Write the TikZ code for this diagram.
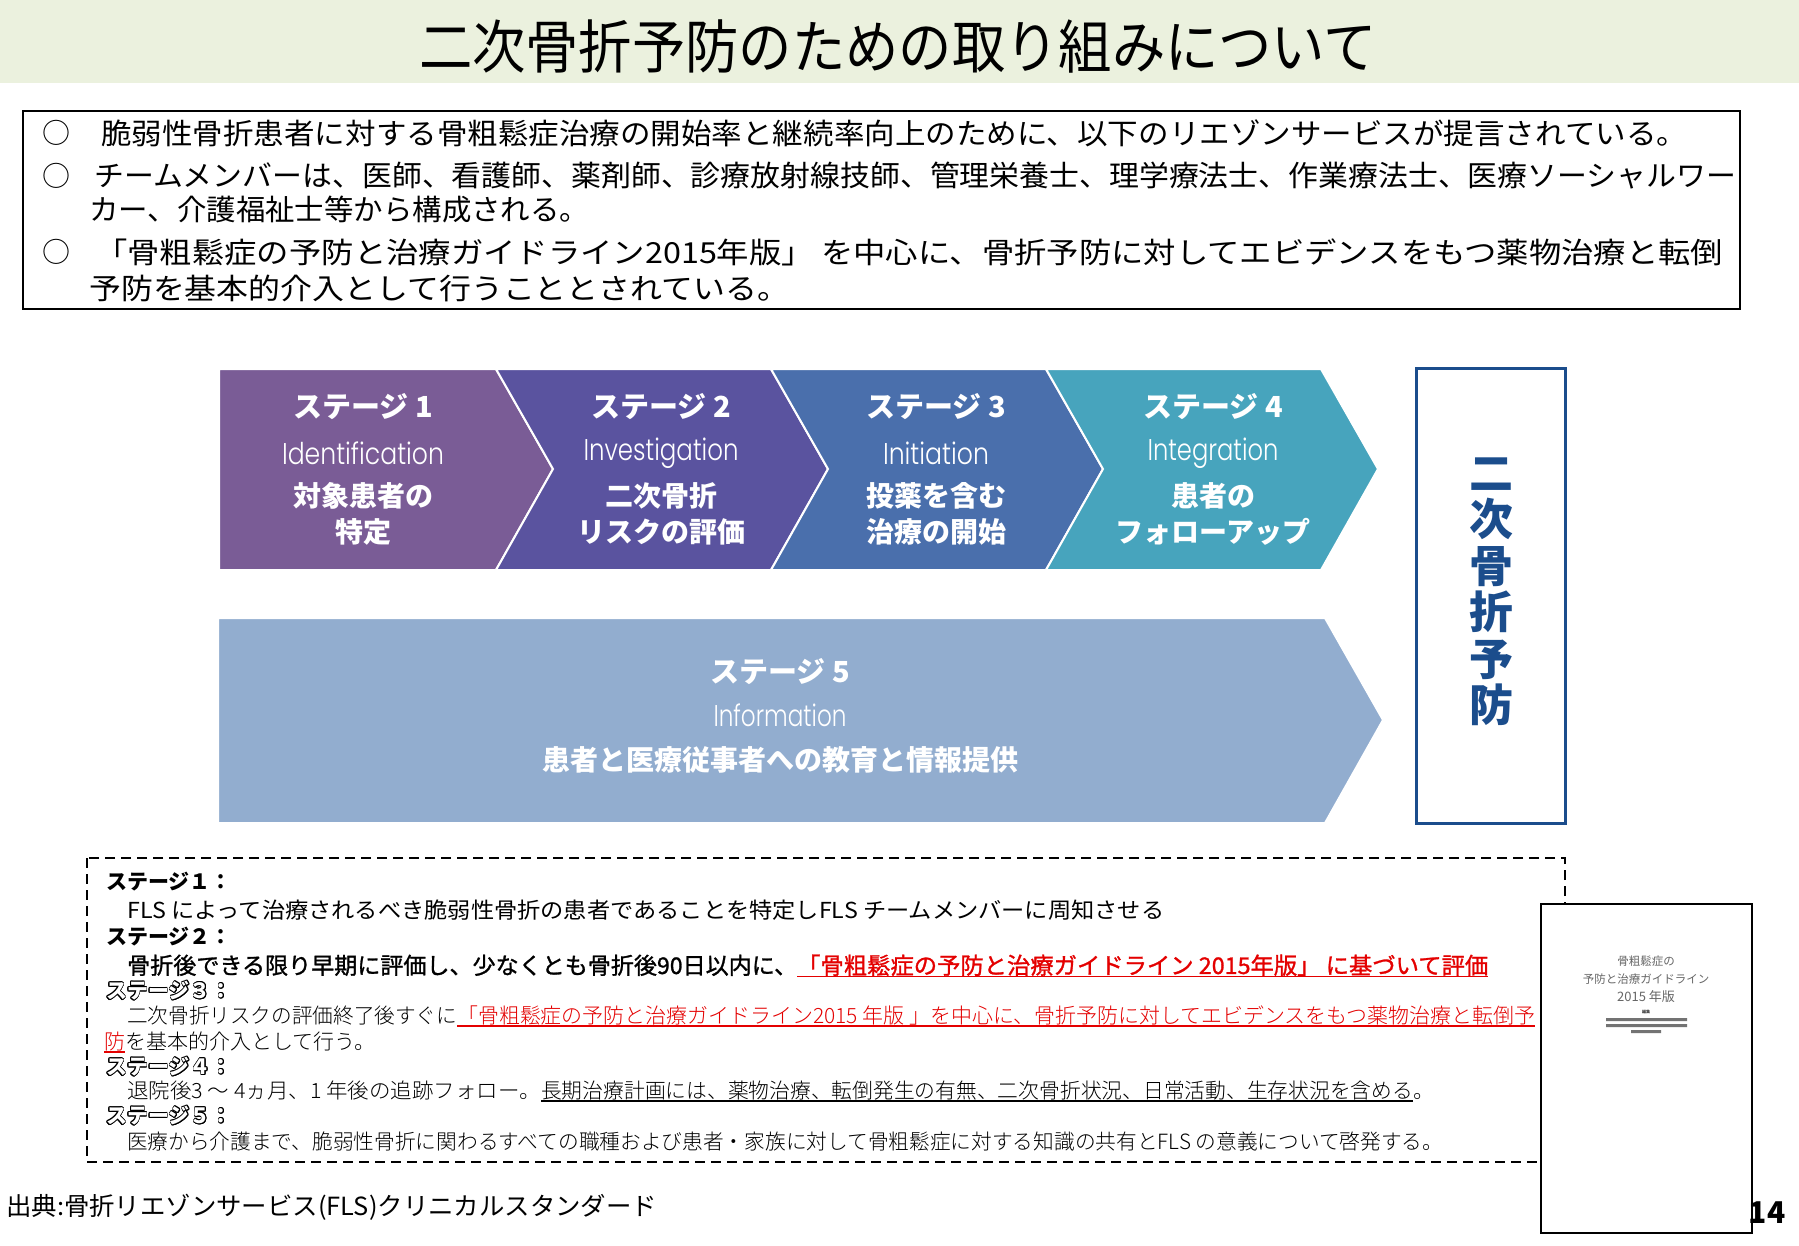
\documentclass[tikz,border=0pt]{standalone}
\usepackage{fontspec}
\usepackage{graphicx}
\usepackage{contour}
\setmainfont{Noto Sans CJK JP}
\IfFontExistsTF{Poppins Light}{\newfontfamily\geofont{Poppins Light}}{\newfontfamily\geofont{Poppins}}
\IfFontExistsTF{Noto Sans CJK JP Light}{\newfontfamily\thinfont{Noto Sans CJK JP Light}}{\newfontfamily\thinfont{Noto Sans CJK JP}}
\newfontfamily\semifont[FakeBold=1.2]{Noto Sans CJK JP}
\usetikzlibrary{positioning,calc}

\definecolor{titlebg}{RGB}{235,241,222}
\definecolor{sone}{RGB}{122,92,150}
\definecolor{stwo}{RGB}{90,83,159}
\definecolor{sthree}{RGB}{74,111,172}
\definecolor{sfour}{RGB}{71,164,189}
\definecolor{sfive}{RGB}{146,173,207}
\definecolor{navy}{RGB}{27,77,140}
\definecolor{notered}{RGB}{228,0,0}

% squeeze a line to a given width, keep its height
\newcommand{\fitw}[2]{\resizebox{#1pt}{\height}{#2}}
\newsavebox\ulbox
\newcommand{\ul}[1]{\sbox\ulbox{#1}\rlap{\rule[-3.5pt]{\wd\ulbox}{1.6pt}}\usebox\ulbox}
\contourlength{0.7pt}
\newcommand{\hollow}[1]{\textcolor{white}{\contour{black}{#1}}}

\begin{document}
\begin{tikzpicture}[x=1pt,y=-1pt,
  chev/.style={draw=white,line width=2pt},
  stagehead/.style={text=white,inner sep=0,font=\fontsize{29}{32}\selectfont\bfseries},
  stageen/.style={text=white,inner sep=0,font=\fontsize{30}{32}\selectfont\geofont},
  stageja/.style={text=white,inner sep=0,align=center,font=\fontsize{28}{36}\selectfont\bfseries},
  boxline/.style={anchor=west,inner sep=0,font=\fontsize{29}{32}\selectfont},
  notehead/.style={anchor=west,inner sep=0,font=\fontsize{21}{24}\selectfont\bfseries},
  noteline/.style={anchor=west,inner sep=0,font=\fontsize{21}{24}\selectfont\thinfont},
  booktext/.style={inner sep=0,text=black!60,font=\fontsize{11.5}{13}\selectfont}]
\useasboundingbox (0,0) rectangle (1799,1245);
\fill[white] (0,0) rectangle (1799,1245);

% title band
\fill[titlebg] (0,0) rectangle (1799,83);
\node[inner sep=0,font=\fontsize{58}{60}\selectfont] (title) at (898,46) {\fitw{958}{二次骨折予防のための取り組みについて}};

% summary box
\draw[line width=2pt] (23,111) rectangle (1740,309);
\foreach \m/\y in {1/133,2/176,3/252}
  \node[inner sep=0,font=\fontsize{28}{30}\selectfont] (m\m) at (56,\y) {○};
\node[boxline] (l1) at (101,133) {\fitw{1586}{脆弱性骨折患者に対する骨粗鬆症治療の開始率と継続率向上のために、以下のリエゾンサービスが提言されている。}};
\node[boxline] (l2) at (94,176) {\fitw{1642}{チームメンバーは、医師、看護師、薬剤師、診療放射線技師、管理栄養士、理学療法士、作業療法士、医療ソーシャルワー}};
\node[boxline] (l3) at (89,210) {\fitw{500}{カー、介護福祉士等から構成される。}};
\node[boxline] (l4) at (95,252) {\fitw{1628}{「骨粗鬆症の予防と治療ガイドライン2015年版」 を中心に、骨折予防に対してエビデンスをもつ薬物治療と転倒}};
\node[boxline] (l5) at (89,288) {\fitw{700}{予防を基本的介入として行うこととされている。}};

% stages 1-4
\fill[sone,chev] (219,369) -- (496,369) -- (553,469) -- (496,570) -- (219,570) -- cycle;
\foreach \c [count=\k] in {stwo,sthree,sfour} {
  \pgfmathsetmacro\L{496+(\k-1)*275}
  \fill[\c,chev] (\L,369) -- ++(275,0) -- ++(57,100) -- ++(-57,101) -- ++(-275,0) -- ++(57,-101) -- cycle;
}
\foreach \k/\x/\en/\w/\ja in {1/363/Identification/162/{対象患者の\\特定},
    2/661/Investigation/155/{二次骨折\\リスクの評価},
    3/936/Initiation/106/{投薬を含む\\治療の開始},
    4/1213/Integration/131/{患者の\\フォローアップ}} {
  \node[stagehead] (head\k) at (\x,407) {ステージ \k};
  \node[stageen] (en\k) at (\x,453) {\fitw{\w}{\en}};
  \node[stageja] (ja\k) at (\x,514) {\ja};
}

% stage 5
\fill[sfive,chev] (218,618) -- (1325,618) -- (1383,720) -- (1325,823) -- (218,823) -- cycle;
\node[stagehead] (head5) at (780,672) {ステージ 5};
\node[stageen] (en5) at (780,715) {\fitw{133}{Information}};
\node[stageja] (ja5) at (780,760) {患者と医療従事者への教育と情報提供};

% goal box
\draw[navy,line width=3pt] (1416,368) rectangle (1565,823);
\node[inner sep=0,align=center,text=navy,font=\fontsize{44}{46.5}\selectfont\bfseries] (goal) at (1491,592) {二\\次\\骨\\折\\予\\防};

% notes
\draw[line width=2pt,dash pattern=on 10pt off 6pt] (87,858) rectangle (1565,1162);
\node[notehead] (d1) at (106,882) {ステージ１：};
\node[noteline,font=\fontsize{22}{24}\selectfont] (d2) at (127,910) {\fitw{1037}{FLS によって治療されるべき脆弱性骨折の患者であることを特定しFLS チームメンバーに周知させる}};
\node[notehead] (d3) at (106,937) {ステージ２：};
\node[noteline,font=\fontsize{23}{25}\selectfont\semifont] (d4) at (127,966) {\fitw{670}{骨折後できる限り早期に評価し、少なくとも骨折後90日以内に、}\textcolor{notered}{\ul{\fitw{691}{「骨粗鬆症の予防と治療ガイドライン 2015年版」 に基づいて評価}}}};
\node[notehead] (d5) at (106,991) {\hollow{ステージ３：}};
\node[noteline] (d6) at (127,1016) {\fitw{330}{二次骨折リスクの評価終了後すぐに}\textcolor{notered}{\ul{\fitw{1078}{「骨粗鬆症の予防と治療ガイドライン2015 年版 」を中心に、骨折予防に対してエビデンスをもつ薬物治療と転倒予}}}};
\node[noteline] (d7) at (104,1042) {\textcolor{notered}{\ul{防}}を基本的介入として行う。};
\node[notehead] (d8) at (106,1067) {\hollow{ステージ４：}};
\node[noteline] (d9) at (127,1091) {\fitw{414}{退院後3 ～ 4ヵ月、1 年後の追跡フォロー。}\ul{\fitw{872}{長期治療計画には、薬物治療、転倒発生の有無、二次骨折状況、日常活動、生存状況を含める}}。};
\node[notehead] (d10) at (106,1116) {\hollow{ステージ５：}};
\node[noteline] (d11) at (127,1141) {\fitw{1316}{医療から介護まで、脆弱性骨折に関わるすべての職種および患者・家族に対して骨粗鬆症に対する知識の共有とFLS の意義について啓発する。}};

% guideline cover
\draw[fill=white,line width=2.5pt] (1541,904) rectangle (1752,1233);
\node[booktext] (bk1) at (1646,961) {骨粗鬆症の};
\node[booktext] (bk2) at (1646,979) {予防と治療ガイドライン};
\node[booktext,font=\fontsize{13}{14}\selectfont] (bk3) at (1646,997) {2015 年版};
\node[inner sep=0,text=black!75,font=\fontsize{4}{5}\selectfont\bfseries] (bk4) at (1646,1012) {編集};
\fill[black!55] (1606,1018) rectangle (1687,1021) (1606,1024) rectangle (1687,1027) (1631,1030) rectangle (1661,1033);

% source and page number
\node[boxline,font=\fontsize{25}{27}\selectfont] (src) at (6,1207) {\fitw{651}{出典:骨折リエゾンサービス(FLS)クリニカルスタンダード}};
\node[inner sep=0,font=\fontsize{30}{32}\selectfont\bfseries] (page) at (1767,1213) {14};
\end{tikzpicture}
\end{document}
